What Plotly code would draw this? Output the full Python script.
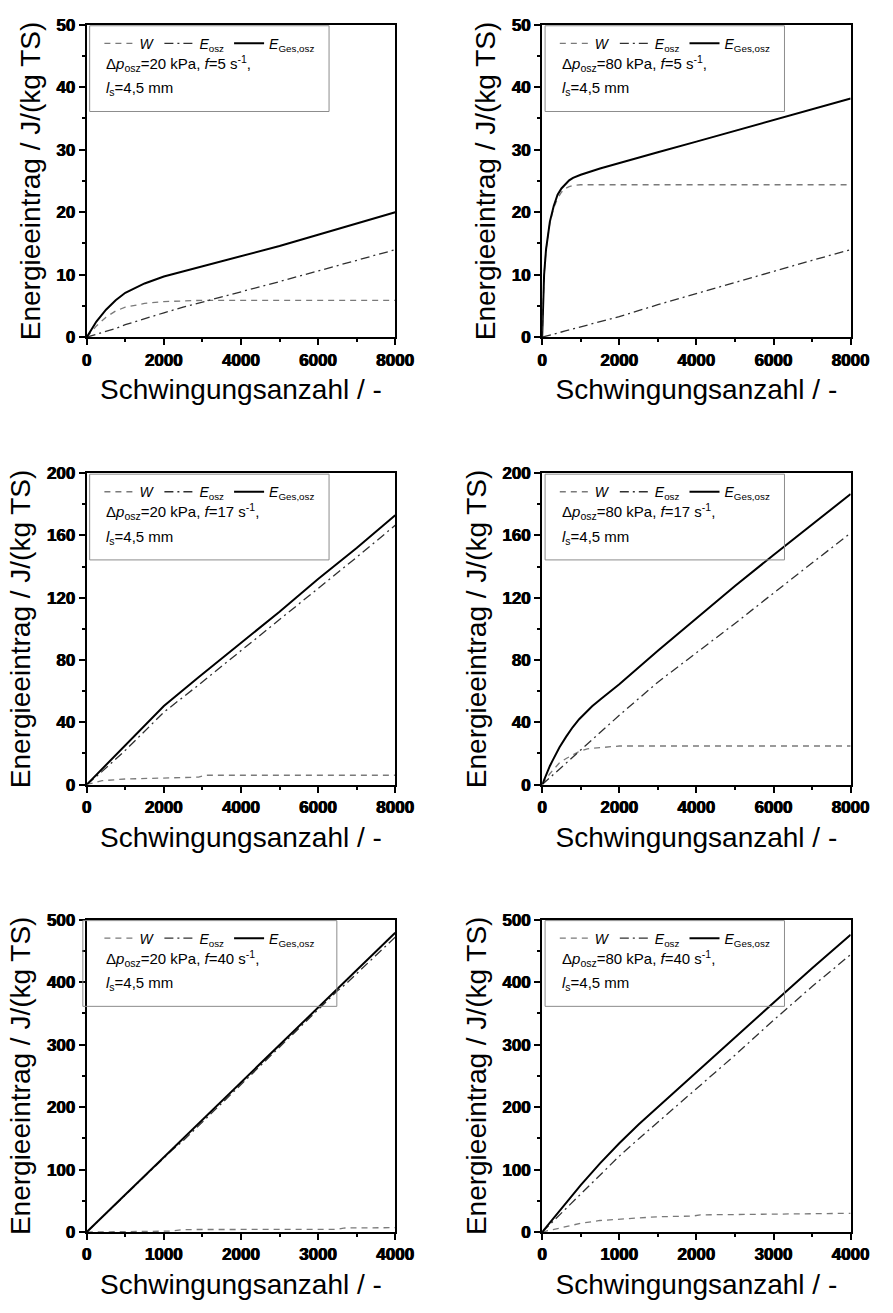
import plotly.graph_objects as go

# ---------------------------------------------------------------------------
# Energy input vs. number of oscillations, six test conditions
# ---------------------------------------------------------------------------

# Δp = 20 kPa, f = 5 1/s
n_a = [0, 250, 500, 750, 1000, 1500, 2000, 2500, 3000, 4000, 5000, 6000, 7000, 8000]
w_a = [0, 1.8, 3.2, 4.2, 4.8, 5.4, 5.7, 5.85, 5.9, 5.9, 5.9, 5.9, 5.9, 5.9]
eosz_a = [0, 0.45, 0.9, 1.4, 2.0, 3.0, 3.9, 4.8, 5.6, 7.2, 8.9, 10.6, 12.3, 14.0]
eges_a = [0, 2.5, 4.4, 5.9, 7.1, 8.6, 9.7, 10.5, 11.3, 12.9, 14.6, 16.4, 18.2, 20.0]

# Δp = 80 kPa, f = 5 1/s
n_b = [0, 20, 50, 100, 150, 200, 300, 400, 500, 600, 700, 800, 1000, 1500, 2000, 3000, 4000, 5000, 6000, 7000, 8000]
w_b = [0, 5, 10, 14, 16.4, 18.3, 20.7, 22.2, 23.2, 23.8, 24.1, 24.3, 24.4, 24.4, 24.4, 24.4, 24.4, 24.4, 24.4, 24.4, 24.4]
eosz_b = [0, 0.03, 0.08, 0.17, 0.25, 0.33, 0.5, 0.67, 0.83, 1.0, 1.17, 1.33, 1.65, 2.5, 3.3, 5.2, 7.0, 8.8, 10.5, 12.3, 14.0]
eges_b = [0, 5, 10, 14, 16.5, 18.5, 21, 22.8, 23.8, 24.5, 25.1, 25.5, 26.0, 27.0, 27.9, 29.6, 31.3, 33.0, 34.7, 36.4, 38.2]

# Δp = 20 kPa, f = 17 1/s
n_c = [0, 200, 400, 1000, 2000, 2900, 3050, 4000, 5000, 6000, 7000, 8000]
w_c = [0, 1.5, 2.5, 3.6, 4.4, 4.8, 6.0, 6.0, 6.0, 6.0, 6.0, 6.0]
eosz_c = [0, 4.2, 8.5, 22, 46.5, 64, 67, 86, 106, 126, 146, 166.5]
eges_c = [0, 5.1, 10.2, 25.5, 50.5, 69, 72, 91, 111, 132, 152, 173]

# Δp = 80 kPa, f = 17 1/s
n_d = [0, 100, 200, 286, 450, 623, 790, 959, 1170, 1295, 1547, 2000, 3000, 4000, 5000, 6000, 7000, 8000]
w_d = [0, 3.8, 7, 9.5, 14, 16.8, 19.2, 21.3, 23.0, 23.2, 23.6, 24.8, 24.8, 24.8, 24.8, 24.8, 24.8, 24.8]
eosz_d = [0, 2.2, 4.4, 6.3, 9.9, 13.7, 17.4, 21.1, 25.7, 28.5, 34.0, 44.5, 65.8, 84.5, 103.5, 123, 142.5, 161.6]
eges_d = [0, 6.5, 12, 16.2, 24, 30.8, 36.8, 42, 47.5, 50.3, 55.5, 64.5, 86, 107, 127.5, 147.5, 167, 186.6]

# Δp = 20 kPa, f = 40 1/s
n_e = [0, 500, 1000, 1100, 1250, 2000, 3000, 3250, 3350, 4000]
w_e = [0, 0.7, 1.3, 1.5, 4.0, 4.1, 4.3, 4.3, 6.5, 7.0]
eosz_e = [0, 59.3, 118.7, 130.5, 146, 236, 356, 386, 396, 472]
eges_e = [0, 60, 120, 132, 150, 240, 360, 390, 402, 479]

# Δp = 80 kPa, f = 40 1/s
n_f = [0, 100, 250, 500, 750, 1000, 1250, 1500, 1950, 2050, 2500, 3000, 3500, 4000]
w_f = [0, 3, 7.5, 14, 18.5, 20.5, 22.8, 24.5, 25.5, 27.5, 28.0, 28.5, 29.2, 30.0]
eosz_f = [0, 12, 30.5, 61, 91.5, 121.5, 149, 175.5, 224, 234, 283, 339, 393, 444]
eges_f = [0, 15, 38, 75, 110, 142, 172, 200, 250, 262, 311, 367, 422, 476]

x_ticks_8000 = [0, 2000, 4000, 6000, 8000]
x_ticks_4000 = [0, 1000, 2000, 3000, 4000]

param_lines = [
    "Δ<i>p</i><sub>osz</sub>=20 kPa, <i>f</i>=5 s<sup>-1</sup>,",
    "Δ<i>p</i><sub>osz</sub>=80 kPa, <i>f</i>=5 s<sup>-1</sup>,",
    "Δ<i>p</i><sub>osz</sub>=20 kPa, <i>f</i>=17 s<sup>-1</sup>,",
    "Δ<i>p</i><sub>osz</sub>=80 kPa, <i>f</i>=17 s<sup>-1</sup>,",
    "Δ<i>p</i><sub>osz</sub>=20 kPa, <i>f</i>=40 s<sup>-1</sup>,",
    "Δ<i>p</i><sub>osz</sub>=80 kPa, <i>f</i>=40 s<sup>-1</sup>,",
]
gap_line = "<i>l</i><sub>s</sub>=4,5 mm"

series_names = ["<i>W</i>", "<i>E</i><sub>osz</sub>", "<i>E</i><sub>Ges,osz</sub>"]
x_title = "Schwingungsanzahl / -"
y_title = "Energieeintrag / J/(kg TS)"

# ---------------------------------------------------------------------------
# Layout geometry (pixels)
# ---------------------------------------------------------------------------
FIG_W, FIG_H = 893, 1313
COLS = [(84, 401), (552, 869)]
ROWS = [(16, 333), (471, 787), (924, 1241)]
FONT = "Liberation Sans"


def fx(p):
    return p / FIG_W


def fy(p):
    return 1 - p / FIG_H


def bold_labels(vals):
    return [f"<b>{v:g}</b>" for v in vals]


panels = [
    dict(n=n_a, w=w_a, eo=eosz_a, eg=eges_a, xmax=8000, xt=x_ticks_8000, ymax=50, dy=10),
    dict(n=n_b, w=w_b, eo=eosz_b, eg=eges_b, xmax=8000, xt=x_ticks_8000, ymax=50, dy=10),
    dict(n=n_c, w=w_c, eo=eosz_c, eg=eges_c, xmax=8000, xt=x_ticks_8000, ymax=200, dy=40),
    dict(n=n_d, w=w_d, eo=eosz_d, eg=eges_d, xmax=8000, xt=x_ticks_8000, ymax=200, dy=40),
    dict(n=n_e, w=w_e, eo=eosz_e, eg=eges_e, xmax=4000, xt=x_ticks_4000, ymax=500, dy=100),
    dict(n=n_f, w=w_f, eo=eosz_f, eg=eges_f, xmax=4000, xt=x_ticks_4000, ymax=500, dy=100),
]

styles = [
    dict(color="#7a7a7a", width=1.3, dash="6px,5px"),
    dict(color="#303030", width=1.3, dash="9px,4px,2px,4px"),
    dict(color="#000000", width=2.0, dash="solid"),
]

fig = go.Figure()
layout = dict(
    width=FIG_W, height=FIG_H,
    margin=dict(l=0, r=0, t=0, b=0),
    paper_bgcolor="white", plot_bgcolor="white",
    font=dict(family=FONT, color="black"),
    shapes=[], annotations=[],
)

# heavy tick numerals
tick_font = dict(family=FONT, size=17, color="black", weight=700,
                 shadow="0.45px 0 0 black, -0.45px 0 0 black")

for i, p in enumerate(panels):
    k = i + 1
    r, c = divmod(i, 2)
    x0, x1 = COLS[c]
    y0, y1 = ROWS[r]
    xa = "x" if k == 1 else f"x{k}"
    ya = "y" if k == 1 else f"y{k}"
    leg = "legend" if k == 1 else f"legend{k}"

    for name, ys, st in zip(series_names, [p["w"], p["eo"], p["eg"]], styles):
        fig.add_trace(go.Scatter(
            x=p["n"], y=ys, mode="lines", name=name, line=st,
            xaxis=xa, yaxis=ya, legend=leg,
        ))

    axis_common = dict(
        showline=True, linecolor="black", linewidth=2, mirror=True,
        ticks="outside", ticklen=6, tickwidth=1.5, tickcolor="black",
        showgrid=False, zeroline=False, tickfont=tick_font,
    )
    xt = p["xt"]
    x_minor = [v + xt[1] / 2 for v in xt[:-1]]
    yt = list(range(0, p["ymax"] + p["dy"], p["dy"]))
    y_minor = [v + p["dy"] / 2 for v in yt[:-1]]

    layout[f"xaxis{k}"] = dict(
        axis_common, domain=[fx(x0), fx(x1)], anchor=ya,
        range=[0, p["xmax"]], tickmode="array", tickvals=xt, ticktext=bold_labels(xt),
        minor=dict(tickmode="array", tickvals=x_minor, ticks="outside", ticklen=3,
                   tickwidth=1.5, tickcolor="black"),
        title=dict(text=x_title, font=dict(family=FONT, size=28), standoff=11),
    )
    layout[f"yaxis{k}"] = dict(
        axis_common, domain=[fy(y1), fy(y0)], anchor=xa,
        range=[0, p["ymax"]], tickmode="array", tickvals=yt, ticktext=bold_labels(yt),
        minor=dict(tickmode="array", tickvals=y_minor, ticks="outside", ticklen=3,
                   tickwidth=1.5, tickcolor="black"),
        title=dict(text=y_title, font=dict(family=FONT, size=28), standoff=8),
    )

    # legend frame inside the upper left corner
    bx0 = x0 - 4 if k == 5 else x0 + 3
    bx1 = x0 + 257 if k == 5 else x0 + 249
    layout["shapes"].append(dict(
        type="rect", xref="paper", yref="paper",
        x0=fx(bx0), x1=fx(bx1), y0=fy(y0 + 88), y1=fy(y0 + 1),
        line=dict(color="#8c8c8c", width=1), fillcolor="rgba(0,0,0,0)", layer="above",
    ))
    layout[leg] = dict(
        orientation="h", x=fx(x0 + 13), y=fy(y0 + 3),
        xanchor="left", yanchor="top",
        bgcolor="rgba(0,0,0,0)", borderwidth=0,
        font=dict(family=FONT, size=14, color="black"),
        itemclick=False, itemdoubleclick=False,
    )
    layout["annotations"].append(dict(
        xref="paper", yref="paper", x=fx(x0 + 18), y=fy(y0 + 39),
        xanchor="left", yanchor="middle", showarrow=False,
        text=param_lines[i], font=dict(family=FONT, size=15, color="black"),
    ))
    layout["annotations"].append(dict(
        xref="paper", yref="paper", x=fx(x0 + 18), y=fy(y0 + 65),
        xanchor="left", yanchor="middle", showarrow=False,
        text=gap_line, font=dict(family=FONT, size=15, color="black"),
    ))

fig.update_layout(**layout)
fig.write_html("out.html")
